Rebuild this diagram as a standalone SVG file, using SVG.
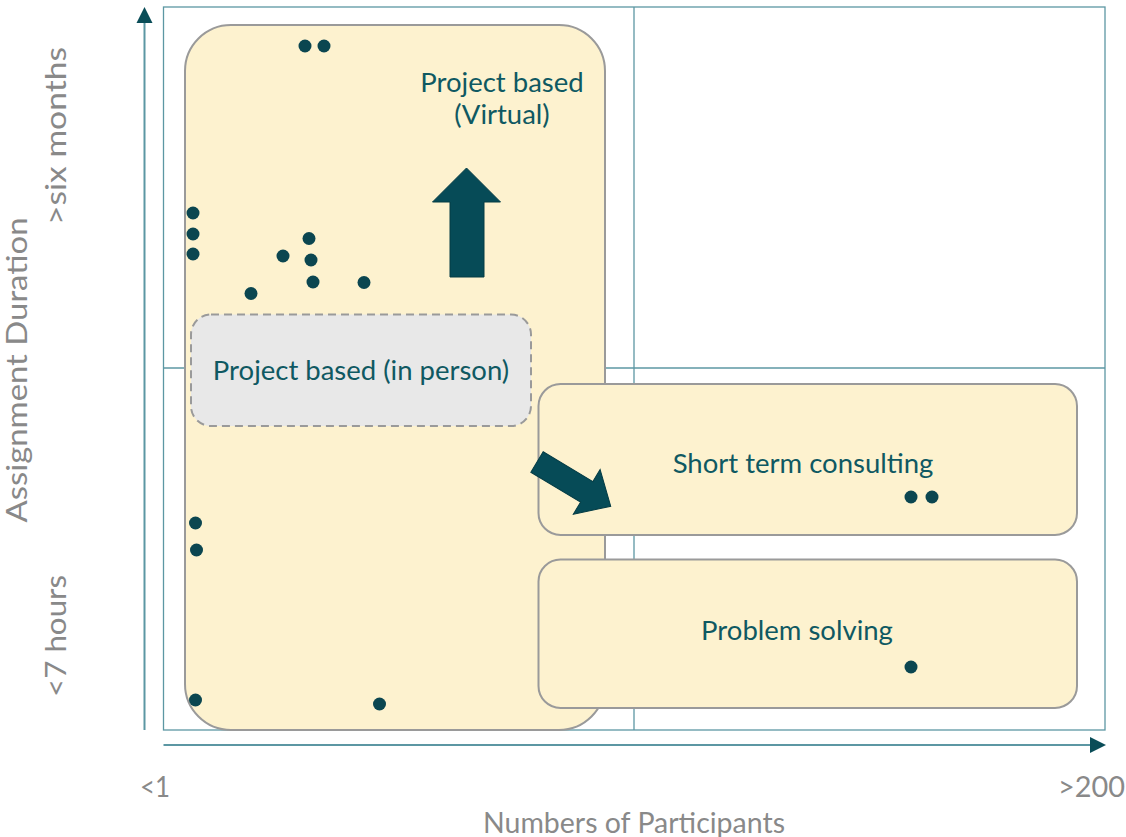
<svg xmlns="http://www.w3.org/2000/svg" width="1126" height="837" viewBox="0 0 1126 837">
  <style>
    .grid { fill: none; stroke: #5c97a3; stroke-width: 1.3; }
    .axis { fill: none; stroke: #5c97a3; stroke-width: 2; }
    .head { fill: #0a4d58; }
    .box { fill: #fdf2cf; stroke: #9a9a9a; stroke-width: 2; }
    .dashed { fill: #e8e8e8; stroke: #9a9a9a; stroke-width: 2; stroke-dasharray: 8 5; }
    .label { font-family: Lato, "Liberation Sans", sans-serif; font-size: 27.5px; fill: #0f5962; text-anchor: middle; }
    .axislabel { font-family: Lato, "Liberation Sans", sans-serif; font-size: 28px; fill: #898989; text-anchor: middle; }
    .dot { fill: #0b4650; }
    .bigarrow { fill: #064b57; stroke: #043c45; stroke-width: 1; }
  </style>

  <rect width="1126" height="837" fill="#ffffff"/>

  <!-- quadrant frame -->
  <g id="grid">
    <rect class="grid" x="163.5" y="7" width="941.5" height="723"/>
    <line class="grid" x1="634" y1="7" x2="634" y2="730"/>
    <line class="grid" x1="163.5" y1="368" x2="1105" y2="368"/>
  </g>

  <!-- axes -->
  <g id="axes">
    <line class="axis" x1="144.5" y1="730" x2="144.5" y2="20"/>
    <polygon class="head" points="144.5,7 136.5,23 152.5,23"/>
    <line class="axis" x1="163.5" y1="745" x2="1092" y2="745"/>
    <polygon class="head" points="1106,745 1090,737 1090,753"/>
  </g>

  <!-- axis labels -->
  <g id="axis-labels">
    <text class="axislabel" transform="translate(27 370) rotate(-90)" textLength="305" lengthAdjust="spacingAndGlyphs">Assignment Duration</text>
    <text class="axislabel" transform="translate(66 136) rotate(-90)" textLength="178" lengthAdjust="spacingAndGlyphs">&gt;six months</text>
    <text class="axislabel" transform="translate(66 636) rotate(-90)" textLength="122" lengthAdjust="spacingAndGlyphs">&lt;7 hours</text>
    <text class="axislabel" x="155" y="797" textLength="30" lengthAdjust="spacingAndGlyphs">&lt;1</text>
    <text class="axislabel" x="1091.5" y="797" textLength="67" lengthAdjust="spacingAndGlyphs">&gt;200</text>
    <text class="axislabel" x="634" y="833" textLength="302" lengthAdjust="spacingAndGlyphs">Numbers of Participants</text>
  </g>

  <!-- project based (virtual) region -->
  <g id="project-virtual">
    <rect class="box" x="185" y="25" width="420" height="705" rx="46" ry="46"/>
    <text class="label" x="502" y="92">Project based</text>
    <text class="label" x="502" y="124">(Virtual)</text>
  </g>

  <!-- project based (in person) region -->
  <g id="project-in-person">
    <rect class="dashed" x="191" y="314.5" width="340" height="111.5" rx="20" ry="20"/>
    <text class="label" x="361" y="380">Project based (in person)</text>
  </g>

  <!-- short term consulting region -->
  <g id="short-term-consulting">
    <rect class="box" x="538.5" y="384" width="538.5" height="151" rx="22" ry="22"/>
    <text class="label" x="803" y="473">Short term consulting</text>
  </g>

  <!-- problem solving region -->
  <g id="problem-solving">
    <rect class="box" x="538.5" y="559.5" width="538.5" height="148.5" rx="22" ry="22"/>
    <text class="label" x="797" y="640">Problem solving</text>
  </g>

  <!-- trend arrows -->
  <g id="connectors">
    <polygon class="bigarrow" points="450,277 484,277 484,202 500.5,202 466.5,168 432.5,202 450,202"/>
    <polygon class="bigarrow" transform="translate(537 462) rotate(31)" points="0,-12 58,-12 58,-26 86,0 58,26 58,12 0,12"/>
  </g>

  <!-- data points -->
  <g id="points">
    <circle class="dot" cx="305" cy="46" r="6.5"/>
    <circle class="dot" cx="324" cy="46" r="6.5"/>
    <circle class="dot" cx="193" cy="213" r="6.5"/>
    <circle class="dot" cx="193" cy="234" r="6.5"/>
    <circle class="dot" cx="193" cy="254" r="6.5"/>
    <circle class="dot" cx="309" cy="238.5" r="6.5"/>
    <circle class="dot" cx="283" cy="256" r="6.5"/>
    <circle class="dot" cx="311" cy="260" r="6.5"/>
    <circle class="dot" cx="313" cy="282" r="6.5"/>
    <circle class="dot" cx="364" cy="282.5" r="6.5"/>
    <circle class="dot" cx="251" cy="293.5" r="6.5"/>
    <circle class="dot" cx="195.5" cy="523" r="6.5"/>
    <circle class="dot" cx="196.5" cy="550" r="6.5"/>
    <circle class="dot" cx="195.5" cy="700" r="6.5"/>
    <circle class="dot" cx="379.5" cy="704" r="6.5"/>
    <circle class="dot" cx="911" cy="497" r="6.5"/>
    <circle class="dot" cx="932" cy="497" r="6.5"/>
    <circle class="dot" cx="911" cy="667" r="6.5"/>
  </g>
</svg>
